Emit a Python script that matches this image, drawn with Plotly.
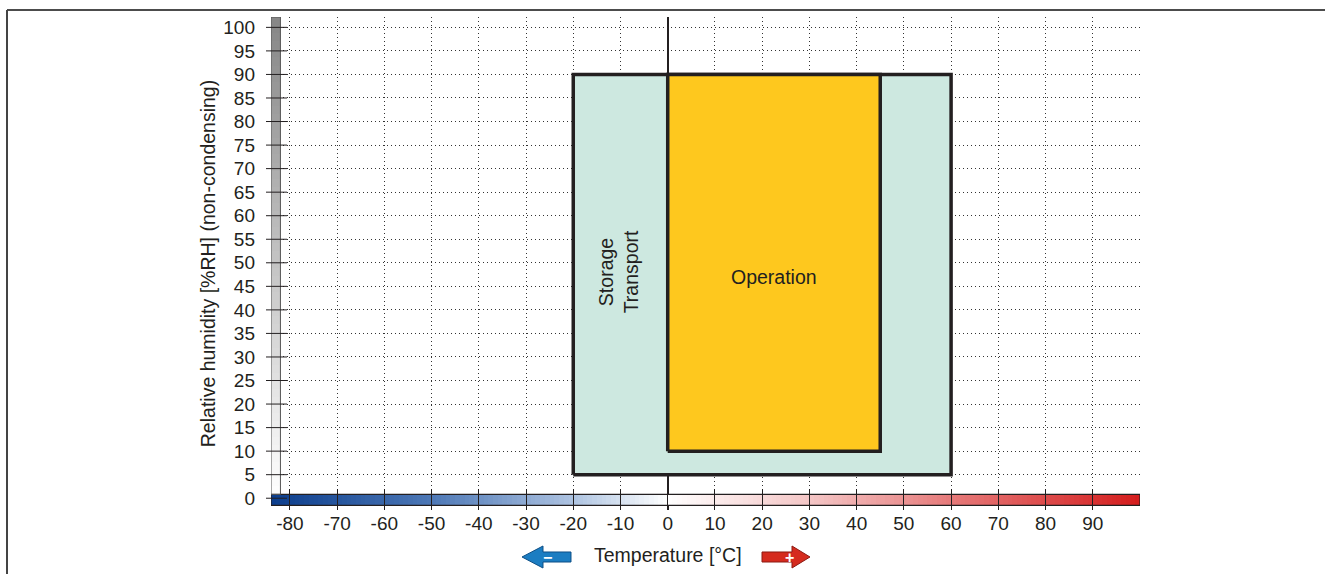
import numpy as np
import plotly.graph_objects as go

# climate ranges (temperature in °C, relative humidity in %)
storage_temp = [-20, 60]
storage_rh = [5, 90]
operation_temp = [0, 45]
operation_rh = [10, 90]

area_labels = ["Storage<br>Transport", "Operation"]
label_temp = [-10.5, 22.5]
label_rh = [48, 47]

x_ticks = list(range(-80, 100, 10))
x_ticktext = [str(v) for v in x_ticks]
y_ticks = list(range(0, 105, 5))

x_range = [-84, 100]
y_range = [-2.5, 102.2]

FONT = "Arial, Liberation Sans, sans-serif"
INK = "#231f20"

# plot area in pixels (used for the decorations outside the axes)
W, H = 1325, 574
L, R, T, B = 271, 185, 17, 64
PW, PH = W - L - R, H - T - B


def px(x, y):
    return (x - L) / PW, (H - B - y) / PH


def path(points):
    pts = [px(x, y) for x, y in points]
    return "M " + " L ".join(f"{a:.5f},{b:.5f}" for a, b in pts) + " Z"


def rect(xs, ys):
    return ([xs[0], xs[1], xs[1], xs[0], xs[0]],
            [ys[0], ys[0], ys[1], ys[1], ys[0]])


fig = go.Figure()

# temperature colour strip along the x axis
bar_edges = np.arange(x_range[0], x_range[1] + 1, 1.0)
bar_mid = (bar_edges[:-1] + bar_edges[1:]) / 2
span = x_range[1] - x_range[0]
stops = [(-84, "#0b3d8c"), (-50, "#4d78b6"), (-20, "#aec3e1"), (0, "#ffffff"),
         (30, "#f4c6c6"), (60, "#e67a7a"), (100, "#d41c1c")]
fig.add_trace(go.Heatmap(
    x=bar_edges, y=[-1.5, 0.8], z=[bar_mid],
    colorscale=[[(v - x_range[0]) / span, c] for v, c in stops],
    zmin=x_range[0], zmax=x_range[1], showscale=False, hoverinfo="skip"))

# humidity grey strip along the y axis
gy = np.linspace(0.8, y_range[1], 60)
fig.add_trace(go.Heatmap(
    x=[-84, -82.0], y=gy, z=[[v] for v in (gy[:-1] + gy[1:]) / 2],
    colorscale=[[0, "#ffffff"], [1, "#868686"]],
    zmin=0, zmax=102, showscale=False, hoverinfo="skip"))

# storage / transport area
sx, sy = rect(storage_temp, storage_rh)
fig.add_trace(go.Scatter(x=sx, y=sy, mode="lines", fill="toself",
                         fillcolor="#cde8e0", line=dict(color=INK, width=3.5),
                         hoverinfo="skip"))

# operation area
ox, oy = rect(operation_temp, operation_rh)
fig.add_trace(go.Scatter(x=ox, y=oy, mode="lines", fill="toself",
                         fillcolor="#fec81e", line=dict(color=INK, width=3.5),
                         hoverinfo="skip"))

for text, t, h in zip(area_labels, label_temp, label_rh):
    fig.add_annotation(x=t, y=h, text=text, showarrow=False,
                       textangle=-90 if "Storage" in text else 0,
                       font=dict(family=FONT, size=19.5, color=INK))

# outlines of the strips
fig.add_shape(type="rect", x0=-84, x1=100, y0=-1.5, y1=0.8,
              line=dict(color=INK, width=1.2))
fig.add_shape(type="rect", x0=-84, x1=-82.0, y0=0.8, y1=y_range[1],
              line=dict(color="#555555", width=1))

# y tick marks crossing the grey strip
for v in y_ticks:
    fig.add_shape(type="line", xref="paper", yref="y",
                  x0=-5 / PW, x1=16 / PW, y0=v, y1=v,
                  line=dict(color=INK, width=1))

# temperature arrows below the axis
fig.add_shape(type="path", xref="paper", yref="paper",
              path=path([(522, 557), (543, 546), (543, 552), (571, 552),
                         (571, 562), (543, 562), (543, 568)]),
              fillcolor="#1b7dc2", line=dict(color="#0d4f86", width=1))
fig.add_shape(type="path", xref="paper", yref="paper",
              path=path([(762, 552), (792, 552), (792, 546), (810, 557),
                         (792, 568), (792, 562), (762, 562)]),
              fillcolor="#d52b1e", line=dict(color="#8c1a12", width=1))
for sign, (ax, ay) in [("\u2212", (547, 557)), ("+", (789, 557))]:
    xp, yp = px(ax, ay)
    fig.add_annotation(x=xp, y=yp, xref="paper", yref="paper", text=f"<b>{sign}</b>",
                       xanchor="center", yanchor="middle", showarrow=False,
                       font=dict(family=FONT, size=16, color="white"))

xp, yp = px(0, 555)
fig.add_annotation(x=0, y=yp, xref="x", yref="paper", text="Temperature [°C]",
                   xanchor="center", yanchor="middle", showarrow=False,
                   font=dict(family=FONT, size=19.5, color=INK))

# page frame
x0, y0 = px(7, 10)
x1, y1 = px(W, H)
fig.add_shape(type="line", xref="paper", yref="paper", x0=x0, x1=x1, y0=y0, y1=y0,
              line=dict(color="#111111", width=1.5))
fig.add_shape(type="line", xref="paper", yref="paper", x0=x0, x1=x0, y0=y0, y1=y1,
              line=dict(color="#444444", width=2))

fig.update_layout(
    width=W, height=H,
    margin=dict(l=L, r=R, t=T, b=B, autoexpand=False),
    paper_bgcolor="white", plot_bgcolor="white",
    showlegend=False,
    font=dict(family=FONT, size=19, color=INK),
)
fig.update_xaxes(
    range=x_range, tickvals=x_ticks, ticktext=x_ticktext,
    ticks="inside", ticklen=21, tickcolor=INK, tickwidth=1,
    showgrid=True, gridcolor="#333333", griddash="1px,3px", gridwidth=1,
    zeroline=True, zerolinecolor=INK, zerolinewidth=1.5,
    showline=False, automargin=False,
    tickfont=dict(family=FONT, size=19, color=INK),
)
fig.update_yaxes(
    range=y_range, tickvals=y_ticks, ticks="", ticklabelstandoff=15,
    showgrid=True, gridcolor="#333333", griddash="1px,3px", gridwidth=1,
    zeroline=False, showline=False, automargin=False,
    tickfont=dict(family=FONT, size=19, color=INK),
    title=dict(text="Relative humidity [%RH] (non-condensing)", standoff=2,
               font=dict(family=FONT, size=19.5, color=INK)),
)

fig.write_html("out.html", config={"displayModeBar": False},
               post_script="document.body.style.margin='0';")
